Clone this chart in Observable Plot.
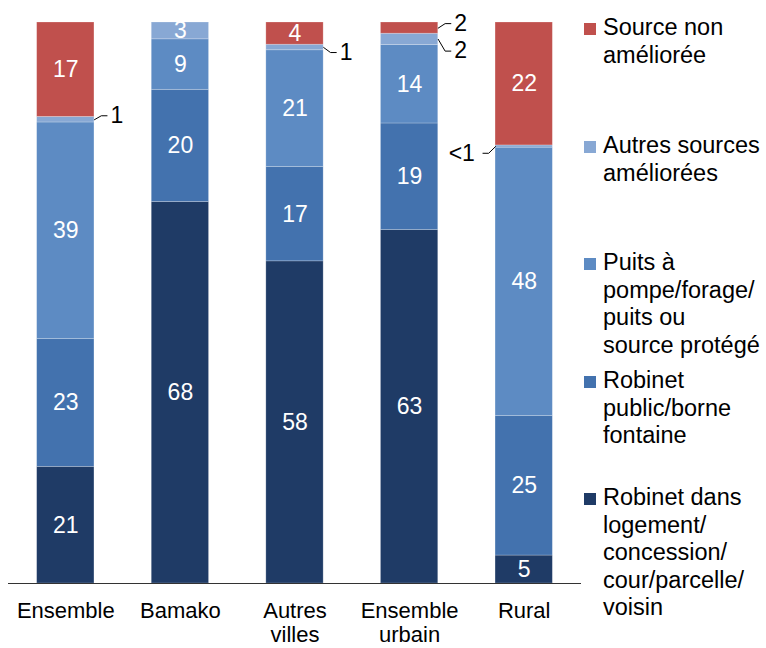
<!DOCTYPE html>
<html>
<head>
<meta charset="utf-8">
<script src="https://cdn.jsdelivr.net/npm/d3@7"></script>
<script src="https://cdn.jsdelivr.net/npm/@observablehq/plot@0.6"></script>
<style>
  body { margin: 0; background: white; }
  #wrap { position: relative; width: 766px; height: 648px; font-family: "Liberation Sans", Arial, sans-serif; }
  #legend .entry { position: absolute; left: 584px; font-size: 23.5px; line-height: 27.5px; color: #000; white-space: pre-line; }
  #legend .sw { position: absolute; left: 0; top: 9px; width: 12px; height: 12px; }
  #legend .tx { position: absolute; left: 19px; top: 0; white-space: pre; }
</style>
</head>
<body>
<div id="wrap"><div id="chart"></div><div id="legend"></div></div>
<script>
// ---- data ----
const categories = ["Ensemble", "Bamako", "Autres villes", "Ensemble urbain", "Rural"];
const categoryTickLabels = ["Ensemble", "Bamako", "Autres\nvilles", "Ensemble\nurbain", "Rural"];
const series = [
  "Robinet dans logement/concession/cour/parcelle/voisin",
  "Robinet public/borne fontaine",
  "Puits à pompe/forage/puits ou source protégé",
  "Autres sources améliorées",
  "Source non améliorée"
];
const legendLabels = [
  "Robinet dans\nlogement/\nconcession/\ncour/parcelle/\nvoisin",
  "Robinet\npublic/borne\nfontaine",
  "Puits à\npompe/forage/\npuits ou\nsource protégé",
  "Autres sources\naméliorées",
  "Source non\naméliorée"
];
const robinetLogement = [21, 68, 58, 63, 5];
const robinetPublic   = [23, 20, 17, 19, 25];
const puitsForage     = [39, 9, 21, 14, 48];
const autresSources   = [1, 3, 1, 2, 0.4];
const sourceNon       = [17, 0, 4, 2, 22];
const seriesValues = [robinetLogement, robinetPublic, puitsForage, autresSources, sourceNon];
const colors = ["#1f3b66", "#4372ae", "#5d8bc3", "#88a8d4", "#c0504d"];

// ---- build stacked (normalized) rows ----
const rows = [];
categories.forEach((c, i) => {
  const total = d3.sum(seriesValues, s => s[i]);
  let acc = 0;
  series.forEach((s, k) => {
    const v = seriesValues[k][i];
    const y1 = acc / total, y2 = (acc + v) / total;
    acc += v;
    if (v > 0) rows.push({i, cat: c, k, series: s, value: v, y1, y2, mid: (y1 + y2) / 2,
      label: v < 1 ? "<1" : String(v)});
  });
});
const inside = rows.filter(d => d.value >= 3);

// callout annotations (which segment, which side, vertical shift of the label)
const calloutSpec = [
  {i: 0, k: 3, side: 1, shift: 0.007},
  {i: 2, k: 3, side: 1, shift: -0.009},
  {i: 3, k: 4, side: 1, shift: 0.008},
  {i: 3, k: 3, side: 1, shift: -0.021},
  {i: 4, k: 3, side: -1, shift: -0.012}
];
const half = 0.25;
const callouts = calloutSpec.map((c, id) => {
  const r = rows.find(d => d.i === c.i && d.k === c.k);
  const edge = c.i + c.side * half;
  return {id, side: c.side, label: r.label, edge, mid: r.mid, ty: r.mid + c.shift,
    tx: edge + c.side * (c.side > 0 ? 0.14 : 0.18)};
});
const leaderPts = callouts.flatMap(c => [
  {id: c.id, x: c.edge, y: c.mid},
  {id: c.id, x: c.edge + c.side * 0.06, y: c.ty},
  {id: c.id, x: c.edge + c.side * 0.11, y: c.ty}
]);

const plot = Plot.plot({
  width: 766,
  height: 648,
  marginLeft: 8,
  marginRight: 185,
  marginTop: 22,
  marginBottom: 65,
  x: {domain: [-0.5, 4.5]},
  y: {domain: [0, 1], axis: null},
  color: {domain: series, range: colors},
  style: {fontFamily: "'Liberation Sans', Arial, sans-serif", fontSize: "22px", background: "white", color: "black"},
  marks: [
    Plot.rect(rows, {x1: d => d.i - half, x2: d => d.i + half, y1: "y1", y2: "y2", fill: "series",
      stroke: "white", strokeOpacity: 0.3, strokeWidth: 0.75}),
    Plot.text(inside, {x: "i", y: "mid", text: "label", fill: "white", fontSize: 23}),
    Plot.line(leaderPts, {x: "x", y: "y", z: "id", stroke: "black", strokeWidth: 1}),
    Plot.text(callouts.filter(c => c.side > 0), {x: "tx", y: "ty", text: "label", textAnchor: "start", fill: "black", fontSize: 23}),
    Plot.text(callouts.filter(c => c.side < 0), {x: "tx", y: "ty", text: "label", textAnchor: "end", fill: "black", fontSize: 23}),
    Plot.ruleY([0], {stroke: "#333", strokeWidth: 1}),
    Plot.axisX(d3.range(categories.length), {tickFormat: i => categoryTickLabels[i], tickSize: 0, tickPadding: 17,
      fontSize: 22, lineHeight: 1.1, fill: "black"})
  ]
});
document.getElementById("chart").appendChild(plot);

// legend (top to bottom: reverse of stacking order)
const legendTops = [14, 132, 249, 367, 484];
const legend = document.getElementById("legend");
[4, 3, 2, 1, 0].forEach((k, j) => {
  const e = document.createElement("div");
  e.className = "entry";
  e.style.top = legendTops[j] + "px";
  const sw = document.createElement("span");
  sw.className = "sw";
  sw.style.background = colors[k];
  const tx = document.createElement("span");
  tx.className = "tx";
  tx.textContent = legendLabels[k];
  e.appendChild(sw);
  e.appendChild(tx);
  legend.appendChild(e);
});
</script>
</body>
</html>
